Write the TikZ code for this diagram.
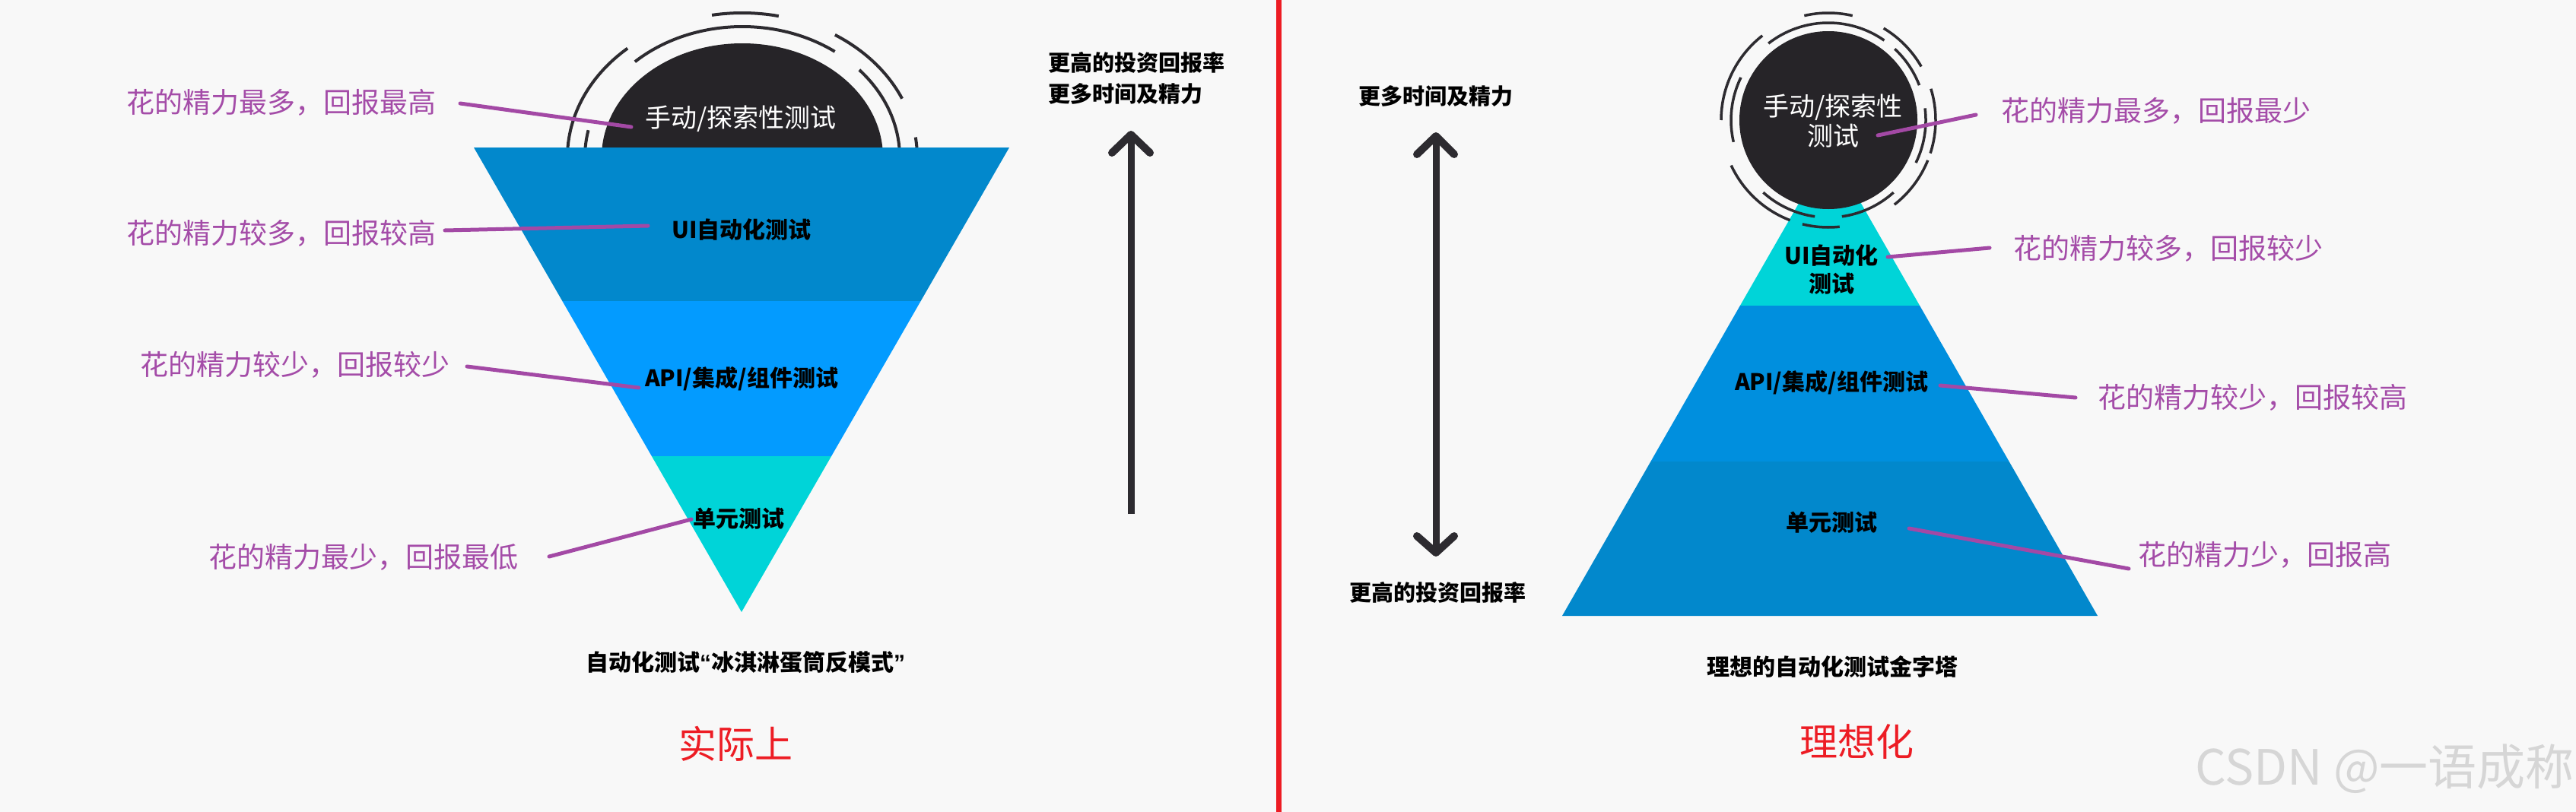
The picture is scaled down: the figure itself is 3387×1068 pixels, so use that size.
\documentclass[tikz,border=0pt]{standalone}
\usepackage{fontspec}
\setmainfont{Noto Sans CJK SC}
\newfontfamily\latinq{Liberation Sans}
\usetikzlibrary{calc}
\definecolor{bg}{RGB}{248,248,248}
\definecolor{mag}{RGB}{164,76,168}
\definecolor{magline}{RGB}{163,73,165}
\definecolor{domec}{RGB}{38,36,40}
\definecolor{ringc}{RGB}{45,43,48}
\definecolor{blueA}{RGB}{2,136,204}
\definecolor{blueB}{RGB}{3,155,255}
\definecolor{blueC}{RGB}{0,143,222}
\definecolor{cyanA}{RGB}{0,212,216}
\definecolor{redA}{RGB}{237,28,36}
\definecolor{wmc}{RGB}{214,214,214}
\begin{document}
\begin{tikzpicture}[x=1pt,y=-1pt,
  lbl/.style={inner sep=0pt,text=mag,font=\fontsize{37}{44}\selectfont},
  inlbl/.style={inner sep=0pt,align=center,font=\bfseries\fontsize{30}{37}\selectfont},
  domelbl/.style={inner sep=0pt,align=center,text=white,font=\fontsize{34}{39}\selectfont},
  axlbl/.style={inner sep=0pt,font=\bfseries\fontsize{29}{41}\selectfont},
  caption/.style={inner sep=0pt,font=\bfseries\fontsize{30}{36}\selectfont},
  redlbl/.style={inner sep=0pt,text=redA,font=\fontsize{50}{56}\selectfont},
  link/.style={draw=magline,line width=5pt,line cap=round},
  ring/.style={draw=ringc,line width=4pt},
  shaft/.style={draw=ringc,line width=9pt},
  chevron/.style={draw=ringc,line width=10pt,line cap=round,line join=round}]
\useasboundingbox (0,0) rectangle (3387,1068);
\fill[bg] (0,0) rectangle (3387,1068);

% ---------- left: ice-cream cone ----------
\fill[domec] (976,207) ellipse[x radius=185,y radius=150];
\foreach \a/\b in {3/42,54/133,168/182}
  \draw[ring,shift={(976,207)}] ({207*cos(-\a)},{172*sin(-\a)}) arc[start angle=-\a,end angle=-\b,x radius=207,y radius=172];
\foreach \a/\b in {-2/8,24/58,78/100,131/182}
  \draw[ring,shift={(976,207)}] ({230*cos(-\a)},{190*sin(-\a)}) arc[start angle=-\a,end angle=-\b,x radius=230,y radius=190];
\fill[blueA] (623,194) -- (1327,194) -- (1210.6,396) -- (739.4,396) -- cycle;
\fill[blueB] (739.4,396) -- (1210.6,396) -- (1093.1,600) -- (856.9,600) -- cycle;
\fill[cyanA] (856.9,600) -- (1093.1,600) -- (975,805) -- cycle;

\node[domelbl] (domeL) at (974,156) {手动/探索性测试};
\node[inlbl] (uiL) at (975,302) {UI自动化测试};
\node[inlbl] (apiL) at (975,498) {API/集成/组件测试};
\node[inlbl] (unitL) at (971,682) {单元测试};

\node[lbl] (mL1) at (370,135) {花的精力最多，回报最高};
\node[lbl] (mL2) at (370,307) {花的精力较多，回报较高};
\node[lbl] (mL3) at (388,480) {花的精力较少，回报较少};
\node[lbl] (mL4) at (478,733) {花的精力最少，回报最低};

\coordinate (l1a) at (605,136); \coordinate (l1b) at (830,167);
\coordinate (l2a) at (585,303); \coordinate (l2b) at (852,297);
\coordinate (l3a) at (614,482); \coordinate (l3b) at (840,510);
\coordinate (l4a) at (722,732); \coordinate (l4b) at (909,683);
\draw[link] (l1a) -- (l1b);
\draw[link] (l2a) -- (l2b);
\draw[link] (l3a) -- (l3b);
\draw[link] (l4a) -- (l4b);

% single arrow
\coordinate (ua0) at (1487,676); \coordinate (ua1) at (1487,182);
\coordinate (uatip) at (1487,177);
\coordinate (ual) at (1462,201); \coordinate (uar) at (1512,201);
\draw[shaft] (ua0) -- (ua1);
\draw[chevron] (ual) -- (uatip) -- (uar);
\node[axlbl,anchor=west,align=left] (axL) at (1378,103) {更高的投资回报率\\更多时间及精力};

\node[caption] (capL) at (980,871) {自动化测试{\latinq“}冰淇淋蛋筒反模式{\latinq”}};
\node[redlbl] (redL) at (967,978) {实际上};

% divider
\coordinate (d0) at (1681,0); \coordinate (d1) at (1681,1068);
\draw[draw=redA,line width=7pt] (d0) -- (d1);

% double arrow
\coordinate (da0) at (1888,183); \coordinate (da1) at (1888,723);
\coordinate (datop) at (1888,179); \coordinate (dabot) at (1888,727);
\coordinate (datl) at (1863,203); \coordinate (datr) at (1912,203);
\coordinate (dabl) at (1863,705); \coordinate (dabr) at (1912,705);
\draw[shaft] (da0) -- (da1);
\draw[chevron] (datl) -- (datop) -- (datr);
\draw[chevron] (dabl) -- (dabot) -- (dabr);
\node[axlbl] (axT) at (1888,127) {更多时间及精力};
\node[axlbl] (axB) at (1890,779) {更高的投资回报率};

% ---------- right: pyramid ----------
\fill[cyanA] (2406,196) -- (2524.1,402) -- (2287.9,402) -- cycle;
\fill[blueC] (2287.9,402) -- (2524.1,402) -- (2641.6,607) -- (2170.4,607) -- cycle;
\fill[blueA] (2170.4,607) -- (2641.6,607) -- (2758,810) -- (2054,810) -- cycle;
\fill[domec] (2404,158) circle[radius=117];
\foreach \a/\b in {-26/7,21/47,55/128,154/193,228/262,278/312}
  \draw[ring,line width=3.5pt,shift={(2404,158)}] ({128*cos(-\a)},{128*sin(-\a)}) arc[start angle=-\a,end angle=-\b,radius=128];
\foreach \a/\b in {-52/-22,-18/17,30/59,77/103,128/180,205/249,256/276}
  \draw[ring,line width=3.5pt,shift={(2404,158)}] ({141*cos(-\a)},{141*sin(-\a)}) arc[start angle=-\a,end angle=-\b,radius=141];

\node[domelbl] (domeR) at (2410,159) {手动/探索性\\测试};
\node[inlbl] (uiR) at (2408,355) {UI自动化\\测试};
\node[inlbl] (apiR) at (2408,503) {API/集成/组件测试};
\node[inlbl] (unitR) at (2408,687) {单元测试};

\node[lbl] (mR1) at (2835,146) {花的精力最多，回报最少};
\node[lbl] (mR2) at (2851,327) {花的精力较多，回报较少};
\node[lbl] (mR3) at (2962,523) {花的精力较少，回报较高};
\node[lbl] (mR4) at (2978,730) {花的精力少，回报高};

\coordinate (r1a) at (2469,178); \coordinate (r1b) at (2598,151);
\coordinate (r2a) at (2482,338); \coordinate (r2b) at (2616,326);
\coordinate (r3a) at (2551,507); \coordinate (r3b) at (2729,523);
\coordinate (r4a) at (2510,695); \coordinate (r4b) at (2799,748);
\draw[link] (r1a) -- (r1b);
\draw[link] (r2a) -- (r2b);
\draw[link] (r3a) -- (r3b);
\draw[link] (r4a) -- (r4b);

\node[caption] (capR) at (2409,877) {理想的自动化测试金字塔};
\node[redlbl] (redR) at (2441,975) {理想化};

\node[inner sep=0pt,anchor=east,text=wmc,font=\fontsize{64}{70}\selectfont] (wm) at (3385,1011) {CSDN @一语成称};
\end{tikzpicture}
\end{document}
